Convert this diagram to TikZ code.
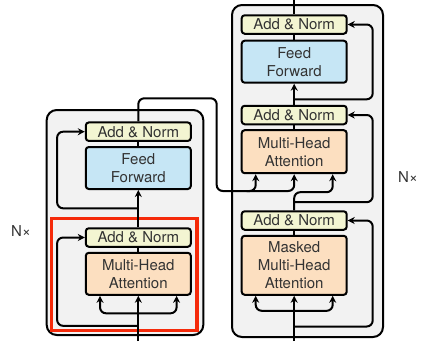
\documentclass[tikz,border=0pt]{standalone}
\usepackage{fontspec}
\setmainfont{TeX Gyre Heros}
\usetikzlibrary{arrows.meta,calc}
\definecolor{bggray}{HTML}{F2F2F2}
\definecolor{anfill}{HTML}{F3F5D2}
\definecolor{fffill}{HTML}{C6E6F5}
\definecolor{attfill}{HTML}{FCDFC0}
\definecolor{redbox}{HTML}{F52A0A}
\begin{document}
\begin{tikzpicture}[x=1pt,y=-1pt,
  blk/.style={draw=black, line width=2pt, rounded corners=3pt, minimum width=105pt, inner sep=0pt, align=center, font=\fontsize{15}{18}\selectfont, text=black!80},
  an/.style={blk, fill=anfill, minimum height=18.5pt},
  ff/.style={blk, fill=fffill, minimum height=42pt},
  att/.style={blk, fill=attfill},
  outer/.style={draw=black, line width=2pt, fill=bggray, rounded corners=10pt, inner sep=0pt},
  redframe/.style={draw=redbox, line width=3.4pt, inner sep=0pt},
  lbl/.style={font=\fontsize{15}{18}\selectfont, text=black!80},
  conn/.style={line width=2pt, rounded corners=6pt},
  arr/.style={conn, -{Stealth[length=7pt,width=7pt]}},
]
\useasboundingbox (0,0) rectangle (428,341);
% outer boxes
\node[outer, minimum width=156.6pt, minimum height=225pt] (encbox) at (125,222.5) {};
\node[outer, minimum width=151pt, minimum height=332pt] (decbox) at (307.5,171) {};
\node[redframe, minimum width=145.5pt, minimum height=112pt] (red) at (124.3,274.5) {};
% encoder blocks
\node[an] (eAN2) at (138.3,131.7) {Add \& Norm};
\node[ff] (eFF) at (138.3,168) {Feed\\Forward};
\node[an] (eAN1) at (138.3,237.5) {Add \& Norm};
\node[att, minimum height=42pt] (eMHA) at (138.3,273.8) {Multi-Head\\Attention};
% decoder blocks
\node[an] (dAN3) at (294.2,24.5) {Add \& Norm};
\node[ff] (dFF) at (294.2,61.7) {Feed\\Forward};
\node[an] (dAN2) at (294.2,115) {Add \& Norm};
\node[att, minimum height=43pt] (dMHA) at (294.2,151.7) {Multi-Head\\Attention};
\node[an] (dAN1) at (294.2,220.5) {Add \& Norm};
\node[att, minimum height=59pt] (dMMHA) at (294.2,265.3) {Masked\\Multi-Head\\Attention};
% labels
\node[lbl] (nx1) at (21,231) {N×};
\node[lbl] (nx2) at (408,177) {N×};
% coordinates
\coordinate (ein) at (138.3,341);
\coordinate (din) at (294.2,341);
\coordinate (dout) at (294.2,0);
\coordinate (turn1) at (216.7,98.3);
\coordinate (bus) at (216.7,191);
% encoder connectors
\draw[arr] (ein) -- (eMHA.south);
\draw[arr] ($(eMHA.south)+(0,17.5)$) -| ($(eMHA.south)+(-38.3,0)$);
\draw[arr] ($(eMHA.south)+(0,17.5)$) -| ($(eMHA.south)+(38.3,0)$);
\draw[conn] (eMHA.north) -- (eAN1.south);
\draw[arr] ($(eMHA.south)+(0,30)$) -| ($(eAN1.west)+(-27.7,0)$) -- (eAN1.west);
\draw[arr] (eAN1.north) -- (eFF.south);
\draw[arr] ($(eFF.south)+(0,18.3)$) -| ($(eAN2.west)+(-27.7,0)$) -- (eAN2.west);
\draw[conn] (eFF.north) -- (eAN2.south);
% encoder to decoder
\draw[arr] (eAN2.north) |- (turn1) -- (bus) -| ($(dMHA.south)+(-38.5,0)$);
\draw[arr] ($(bus)+(30,0)$) -| (dMHA.south);
% decoder connectors
\draw[arr] (din) -- (dMMHA.south);
\draw[arr] ($(dMMHA.south)+(0,15)$) -| ($(dMMHA.south)+(-38.5,0)$);
\draw[arr] ($(dMMHA.south)+(0,15)$) -| ($(dMMHA.south)+(38.5,0)$);
\draw[arr] ($(dMMHA.south)+(0,30.7)$) -| ($(dAN1.east)+(25,0)$) -- (dAN1.east);
\draw[conn] (dMMHA.north) -- (dAN1.south);
\draw[arr] (dAN1.north) |- ($(dMHA.south)+(20,18)$) -| ($(dMHA.south)+(38.5,0)$);
\draw[arr] ($(dMHA.south)+(0,28)$) -| ($(dAN2.east)+(25,0)$) -- (dAN2.east);
\draw[conn] (dMHA.north) -- (dAN2.south);
\draw[arr] (dAN2.north) -- (dFF.south);
\draw[arr] ($(dFF.south)+(0,15.6)$) -| ($(dAN3.east)+(25,0)$) -- (dAN3.east);
\draw[conn] (dFF.north) -- (dAN3.south);
\draw[conn] (dAN3.north) -- (dout);
\end{tikzpicture}
\end{document}
